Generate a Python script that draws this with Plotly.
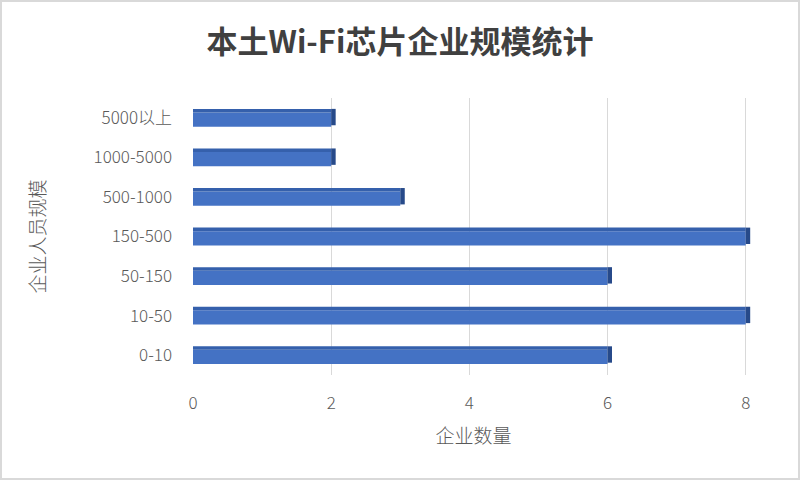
import plotly.graph_objects as go

categories = ["0-10", "10-50", "50-150", "150-500", "500-1000", "1000-5000", "5000以上"]
values = [6, 8, 6, 8, 3, 2, 2]
x_ticks = [0, 2, 4, 6, 8]

FONT = "Noto Sans CJK SC"
W, H = 800, 480
L, R, T, B = 193, 46, 98, 105
PW, PH = W - L - R, H - T - B

FRONT_W, TOP_W = 0.36, 0.09
FRONT_OFF = -(FRONT_W + TOP_W) / 2
SIDE_DX = 0.065

fig = go.Figure()
# front face
fig.add_trace(go.Bar(
    y=categories, x=values, orientation="h", width=FRONT_W, offset=FRONT_OFF,
    marker=dict(color="#4472C4", line=dict(width=0)), hoverinfo="x+y",
))
# top face (3D effect)
fig.add_trace(go.Bar(
    y=categories, x=values, orientation="h", width=TOP_W, offset=FRONT_OFF + FRONT_W,
    marker=dict(color="#3560AC", line=dict(width=0)), hoverinfo="skip",
))
# right side face (3D effect)
fig.add_trace(go.Bar(
    y=categories, x=[SIDE_DX] * len(values), base=values, orientation="h",
    width=FRONT_W + TOP_W * 0.6, offset=FRONT_OFF + TOP_W * 0.4,
    marker=dict(color="#274A8A", line=dict(width=0)), hoverinfo="skip",
))

fig.update_layout(
    width=W, height=H,
    paper_bgcolor="white", plot_bgcolor="white",
    margin=dict(l=L, r=R, t=T, b=B, autoexpand=False),
    barmode="overlay",
    showlegend=False,
    title=dict(text="<b>本土Wi-Fi芯片企业规模统计</b>", x=0.5, xanchor="center", y=1 - 42 / H, yanchor="middle",
               font=dict(family=FONT, size=31, color="#404040")),
    font=dict(family=FONT, color="#595959"),
    shapes=[dict(type="rect", xref="paper", yref="paper", x0=-(L - 1) / PW, x1=1 + (R - 1) / PW,
                 y0=-(B - 1) / PH, y1=1 + (T - 1) / PH, line=dict(color="#D9D9D9", width=2),
                 layer="below")],
)
fig.update_xaxes(
    range=[0, 8.12], tickvals=x_ticks, showgrid=True, gridcolor="#D9D9D9", gridwidth=1,
    zeroline=False, showline=False, ticks="", ticklabelstandoff=16, automargin=False,
    tickfont=dict(family=FONT, size=17, color="#595959", weight=300),
    title=dict(text="企业数量", font=dict(family=FONT, size=19, color="#595959", weight=300), standoff=16),
)
fig.update_yaxes(
    categoryorder="array", categoryarray=categories, showgrid=False, zeroline=False,
    showline=False, ticks="", ticklabelstandoff=20, automargin=False,
    tickfont=dict(family=FONT, size=17, color="#595959", weight=300),
    title=dict(text="企业人员规模", font=dict(family=FONT, size=19, color="#595959", weight=300), standoff=42),
)

fig.write_html("out.html", config={"displayModeBar": False},
               post_script="document.body.style.margin='0';document.body.style.overflow='hidden';")
